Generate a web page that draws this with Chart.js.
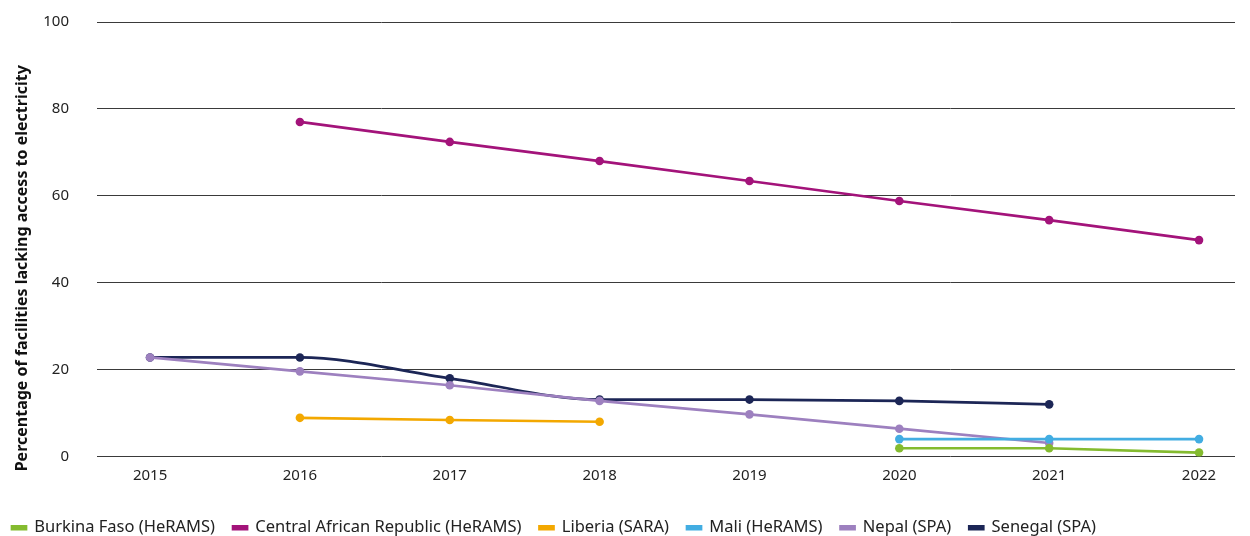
<!DOCTYPE html>
<html lang="en">
<head>
    <meta charset="UTF-8">
    <title>Facilities lacking access to electricity</title>
    <script src="https://cdn.jsdelivr.net/npm/chart.js"></script>
    <style>
        html, body { margin: 0; padding: 0; background: #fff; overflow: hidden; }
        #wrap { width: 1250px; height: 546px; position: relative; }
    </style>
</head>
<body>
    <div id="wrap"><canvas id="grafica"></canvas></div>

    <script>
        const years = [2015, 2016, 2017, 2018, 2019, 2020, 2021, 2022];

        const burkinaFaso = [null, null, null, null, null, 1.9, 1.9, 0.9];
        const centralAfricanRep = [null, 77.0, 72.4, 68.0, 63.4, 58.8, 54.4, 49.8];
        const liberia = [null, 8.9, 8.4, 8.0, null, null, null, null];
        const mali = [null, null, null, null, null, 4.0, 4.0, 4.0];
        const nepal = [22.8, 19.6, 16.4, 12.8, 9.7, 6.4, 3.1, null];
        const senegal = [22.8, 22.8, 18.0, 13.1, 13.1, 12.8, 12.0, null];

        const yTicks = [0, 20, 40, 60, 80, 100];
        const yTitle = 'Percentage of facilities lacking access to electricity';

        function serie(label, values, color, curved) {
            return {
                label: label,
                data: years.map((y, i) => ({ x: y, y: values[i] })).filter(p => p.y !== null),
                borderColor: color,
                backgroundColor: color,
                borderWidth: 2.7,
                pointRadius: 4.3,
                pointBorderWidth: 0,
                tension: curved ? 0.4 : 0,
                cubicInterpolationMode: curved ? 'monotone' : 'default',
                fill: false
            };
        }

        // titulo del eje y, un poco mas abajo que el centro como en el original
        const tituloY = {
            id: 'tituloY',
            afterDraw(chart) {
                const { ctx, chartArea } = chart;
                ctx.save();
                ctx.translate(22, (chartArea.top + chartArea.bottom) / 2 + 29);
                ctx.rotate(-Math.PI / 2);
                ctx.font = 'bold 16px "Noto Sans"';
                ctx.fillStyle = '#111';
                ctx.textAlign = 'center';
                ctx.textBaseline = 'middle';
                ctx.fillText(yTitle, 0, 0);
                ctx.restore();
            }
        };

        const ctx = document.getElementById('grafica').getContext('2d');
        const grafica = new Chart(ctx, {
            type: 'line',
            data: {
                datasets: [
                    serie('Burkina Faso (HeRAMS)', burkinaFaso, '#84bb2f'),
                    serie('Central African Republic (HeRAMS)', centralAfricanRep, '#a3137a'),
                    serie('Liberia (SARA)', liberia, '#f3a800'),
                    serie('Mali (HeRAMS)', mali, '#42ade2'),
                    serie('Nepal (SPA)', nepal, '#9d80bf'),
                    serie('Senegal (SPA)', senegal, '#1c2656', true)
                ]
            },
            plugins: [tituloY],
            options: {
                responsive: true,
                maintainAspectRatio: false,
                animation: false,
                layout: { padding: { top: 22, right: 15, left: -6, bottom: 0 } },
                plugins: {
                    tooltip: { enabled: false },
                    legend: {
                        position: 'bottom',
                        align: 'start',
                        labels: {
                            boxWidth: 14,
                            boxHeight: 3,
                            padding: 18,
                            color: '#222',
                            font: { family: 'Noto Sans', size: 16.5 }
                        }
                    }
                },
                scales: {
                    x: {
                        type: 'linear',
                        min: 2014.646,
                        max: 2022.24,
                        afterBuildTicks: axis => { axis.ticks = years.map(v => ({ value: v })); },
                        afterFit: axis => { axis.height += 7; },
                        grid: { display: false, drawTicks: false },
                        border: { display: false },
                        ticks: {
                            padding: 10,
                            color: '#222',
                            font: { family: 'Noto Sans', size: 15 },
                            callback: v => String(v)
                        }
                    },
                    y: {
                        min: 0,
                        max: 100,
                        afterBuildTicks: axis => { axis.ticks = yTicks.map(v => ({ value: v })); },
                        afterFit: axis => {
                            axis.width = 103;
                            axis.paddingTop = 0;
                            axis.paddingBottom = 0;
                        },
                        grid: { color: '#3a3a3a', lineWidth: 1, drawTicks: false },
                        border: { display: false },
                        ticks: {
                            padding: 28,
                            color: '#222',
                            font: { family: 'Noto Sans', size: 15 }
                        }
                    }
                }
            }
        });
    </script>
</body>
</html>
